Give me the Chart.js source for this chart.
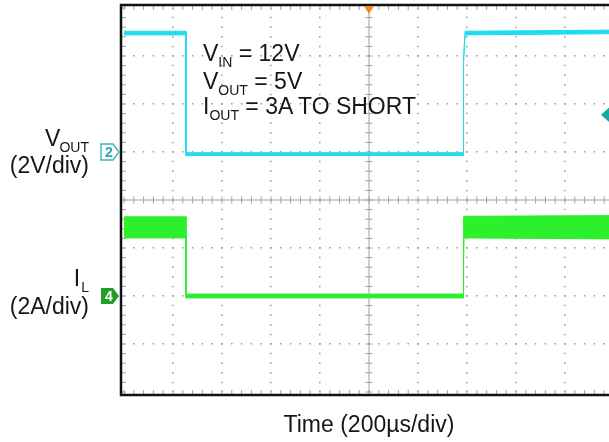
<!DOCTYPE html>
<html>
<head>
<meta charset="utf-8">
<script src="https://cdn.jsdelivr.net/npm/chart.js@4.4.1/dist/chart.umd.min.js"></script>
<style>
    html, body { margin: 0; padding: 0; background: #fff; overflow: hidden; width: 609px; height: 442px; }
    #wrap { position: relative; width: 630px; height: 442px; }
    #scope { position: absolute; left: 0; top: 0; }
    .txt { position: absolute; font-family: "Liberation Sans", Arial, sans-serif; font-size: 23px; line-height: 23px; color: #161616; white-space: nowrap; }
    .sub { font-size: 14px; position: relative; top: 6px; }
    .side { left: 0; width: 89px; text-align: right; }
    .tag { position: absolute; font-family: "Liberation Sans", Arial, sans-serif; font-size: 14px; font-weight: bold; line-height: 14px; width: 14px; text-align: center; }
</style>
</head>
<body>
<div id="wrap">
    <canvas id="scope" width="630" height="442"></canvas>

    <div class="txt" style="left:203px; top:42px;">V<span class="sub">IN</span> = 12V</div>
    <div class="txt" style="left:203px; top:70px;">V<span class="sub">OUT</span> = 5V</div>
    <div class="txt" style="left:203px; top:95px;">I<span class="sub">OUT</span> = 3A TO SHORT</div>

    <div class="txt side" style="top:127px;">V<span class="sub" style="margin-left:-1px">OUT</span></div>
    <div class="txt side" style="top:154px;">(2V/div)</div>
    <div class="txt side" style="top:267px;">I<span class="sub" style="margin-left:1px">L</span></div>
    <div class="txt side" style="top:295px;">(2A/div)</div>

    <div class="txt" style="left:280px; top:413px; width:178px; text-align:center;">Time (200µs/div)</div>

    <div class="tag" id="tag2" style="color:#2aa9b3;">2</div>
    <div class="tag" id="tag4" style="color:#fff;">4</div>
</div>

<script>
    // horizontal: 200 us/div, 10 divisions; vertical: 8 divisions
    var timeMax = 2000;
    var divCount = 8;

    // channel 2 (VOUT): 2 V/div, ground marker at division 5
    var voutOffsetDiv = 5;
    var voutPerDiv = 2;
    var voutTime = [0, 253, 253, 1384, 1386, 1392, 2000];
    var voutMax  = [5.03, 5.03, -0.03, -0.03, 3.9, 5.03, 5.08];
    var voutMin  = [4.88, 4.88, -0.15, -0.15, 3.7, 4.88, 4.93];

    // channel 4 (IL): 2 A/div, ground marker at division 2
    var ilOffsetDiv = 2;
    var ilPerDiv = 2;
    var ilTime = [0, 253, 253, 1384, 1386, 1388, 2000];
    var ilMax  = [3.3, 3.3, 0.08, 0.08, 3.3, 3.32, 3.35];
    var ilMin  = [2.42, 2.42, -0.08, -0.08, 1.5, 2.42, 2.38];

    // trigger: center of screen, level on channel 2
    var trigTime = 1000;
    var trigLevelV = 1.55;

    var cyan = '#1fdcef';
    var green = '#2cf02c';

    function toPoints(times, values, offset, perDiv) {
        return times.map(function(t, i) {
            return { x: t, y: offset + values[i] / perDiv };
        });
    }

    function band(times, hi, lo, offset, perDiv, color) {
        return [
            {
                data: toPoints(times, hi, offset, perDiv),
                borderColor: color, backgroundColor: color,
                borderWidth: 1, pointRadius: 0, fill: '+1'
            },
            {
                data: toPoints(times, lo, offset, perDiv),
                borderColor: color, backgroundColor: color,
                borderWidth: 1, pointRadius: 0, fill: false
            }
        ];
    }

    function dotColor(isCenter, isEdge) {
        return (isCenter || isEdge) ? 'rgba(0,0,0,0)' : '#9a9a9a';
    }

    // center cross, edge ticks, frame and channel markers
    var graticule = {
        id: 'graticule',
        beforeDatasetsDraw: function(chart) {
            var ctx = chart.ctx, a = chart.chartArea;
            var x = chart.scales.x, y = chart.scales.y;
            var cx = x.getPixelForValue(timeMax / 2);
            var cy = y.getPixelForValue(divCount / 2);
            ctx.save();
            ctx.strokeStyle = '#a0a0a0';
            ctx.lineWidth = 1;
            ctx.beginPath();
            ctx.moveTo(a.left, cy); ctx.lineTo(a.right, cy);
            ctx.moveTo(cx, a.top); ctx.lineTo(cx, a.bottom);
            for (var t = 0; t <= timeMax; t += timeMax / 50) {
                var px = x.getPixelForValue(t);
                ctx.moveTo(px, cy - 3.5); ctx.lineTo(px, cy + 3.5);
                ctx.moveTo(px, a.top - 3); ctx.lineTo(px, a.top + 2);
                ctx.moveTo(px, a.bottom + 3); ctx.lineTo(px, a.bottom - 2);
            }
            for (var d = 0; d <= divCount + 0.01; d += 0.2) {
                var py = y.getPixelForValue(d);
                ctx.moveTo(cx - 3.5, py); ctx.lineTo(cx + 3.5, py);
                ctx.moveTo(a.left - 3, py); ctx.lineTo(a.left + 2, py);
            }
            ctx.stroke();
            ctx.restore();
        },
        afterDraw: function(chart) {
            var ctx = chart.ctx, a = chart.chartArea;
            var x = chart.scales.x, y = chart.scales.y;
            ctx.save();

            // frame
            ctx.strokeStyle = '#111';
            ctx.lineWidth = 2.5;
            ctx.strokeRect(a.left - 3, a.top - 3, a.right - a.left + 6, a.bottom - a.top + 6);

            // channel 2 marker (outlined)
            var y2 = y.getPixelForValue(voutOffsetDiv);
            ctx.beginPath();
            ctx.moveTo(101, y2 - 8); ctx.lineTo(113, y2 - 8); ctx.lineTo(119, y2);
            ctx.lineTo(113, y2 + 8); ctx.lineTo(101, y2 + 8); ctx.closePath();
            ctx.fillStyle = '#fff';
            ctx.fill();
            ctx.strokeStyle = '#3ab7bf';
            ctx.lineWidth = 1.4;
            ctx.stroke();

            // channel 4 marker (filled)
            var y4 = y.getPixelForValue(ilOffsetDiv);
            ctx.beginPath();
            ctx.moveTo(101, y4 - 8); ctx.lineTo(113, y4 - 8); ctx.lineTo(119, y4);
            ctx.lineTo(113, y4 + 8); ctx.lineTo(101, y4 + 8); ctx.closePath();
            ctx.fillStyle = '#1f9e2a';
            ctx.fill();

            // trigger position
            var tx = x.getPixelForValue(trigTime);
            ctx.beginPath();
            ctx.moveTo(tx - 5, a.top - 2); ctx.lineTo(tx + 5, a.top - 2); ctx.lineTo(tx, a.top + 6);
            ctx.closePath();
            ctx.fillStyle = '#f28a1e';
            ctx.fill();

            // trigger level
            var ly = y.getPixelForValue(voutOffsetDiv + trigLevelV / voutPerDiv);
            ctx.beginPath();
            ctx.moveTo(601, ly); ctx.lineTo(611, ly - 9); ctx.lineTo(611, ly + 9);
            ctx.closePath();
            ctx.fillStyle = '#1aa5a8';
            ctx.fill();

            ctx.restore();

            var tag2 = document.getElementById('tag2');
            tag2.style.left = '102px';
            tag2.style.top = (y2 - 7) + 'px';
            var tag4 = document.getElementById('tag4');
            tag4.style.left = '102px';
            tag4.style.top = (y4 - 7) + 'px';
        }
    };

    var datasets = band(voutTime, voutMax, voutMin, voutOffsetDiv, voutPerDiv, cyan)
        .concat(band(ilTime, ilMax, ilMin, ilOffsetDiv, ilPerDiv, green));

    var ctx = document.getElementById('scope').getContext('2d');
    new Chart(ctx, {
        type: 'line',
        data: { datasets: datasets },
        plugins: [graticule],
        options: {
            responsive: false,
            animation: false,
            devicePixelRatio: 1,
            layout: { padding: { left: 124, right: 16, top: 8, bottom: 50 } },
            plugins: { legend: { display: false }, tooltip: { enabled: false } },
            elements: { line: { tension: 0 } },
            scales: {
                x: {
                    type: 'linear', min: 0, max: timeMax,
                    ticks: { display: false, stepSize: timeMax / 10 },
                    grid: {
                        drawTicks: false, lineWidth: 1.5,
                        color: function(c) {
                            var v = c.tick ? c.tick.value : 0;
                            return dotColor(v === timeMax / 2, v === 0 || v === timeMax);
                        }
                    },
                    border: { display: false, dash: [1.5, 8.1], dashOffset: 0.75 },
                    afterFit: function(s) { s.height = 0; }
                },
                y: {
                    min: 0, max: divCount,
                    ticks: { display: false, stepSize: 1 },
                    grid: {
                        drawTicks: false, lineWidth: 1.5,
                        color: function(c) {
                            var v = c.tick ? c.tick.value : 0;
                            return dotColor(v === divCount / 2, v === 0 || v === divCount);
                        }
                    },
                    border: { display: false, dash: [1.5, 8.3], dashOffset: 0.75 },
                    afterFit: function(s) { s.width = 0; }
                }
            }
        }
    });
</script>
</body>
</html>
